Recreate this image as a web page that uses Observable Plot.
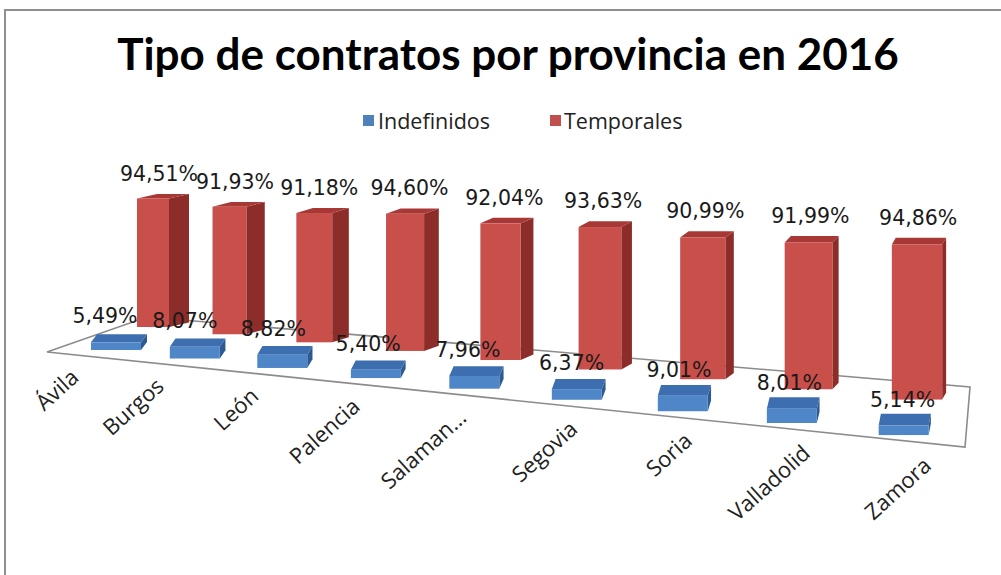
<!DOCTYPE html>
<html>
<head>
<meta charset="utf-8">
<script src="https://cdn.jsdelivr.net/npm/d3@7"></script>
<script src="https://cdn.jsdelivr.net/npm/@observablehq/plot@0.6"></script>
<style>
  html, body { margin: 0; padding: 0; background: #fff; width: 1001px; height: 575px; overflow: hidden; position: relative; }
  #frame { position: absolute; left: 4px; top: 9px; width: 1100px; height: 700px; border: 2px solid #8f8f8f; box-sizing: border-box; }
  #title { position: absolute; left: 0; top: 31px; width: 1016px; text-align: center; font-family: Lato, sans-serif; font-weight: bold; font-size: 44px; line-height: 44px; color: #000; white-space: nowrap; }
  .sw { position: absolute; width: 11px; height: 11px; top: 115px; }
  .lg { position: absolute; top: 108px; font-family: "Open Sans", sans-serif; font-size: 21.5px; line-height: 26px; color: #222; white-space: nowrap; }
  #chart { position: absolute; left: 0; top: 140px; }
</style>
</head>
<body>
<div id="frame"></div>
<div id="title">Tipo de contratos por provincia en 2016</div>
<div id="legend"></div>
<div id="chart"></div>
<script>
// ---- data ----
const provinces = ["Ávila", "Burgos", "León", "Palencia", "Salamanca", "Segovia", "Soria", "Valladolid", "Zamora"];
const tickLabels = ["Ávila", "Burgos", "León", "Palencia", "Salaman...", "Segovia", "Soria", "Valladolid", "Zamora"];
const indefinidos = [5.49, 8.07, 8.82, 5.40, 7.96, 6.37, 9.01, 8.01, 5.14];
const temporales = [94.51, 91.93, 91.18, 94.60, 92.04, 93.63, 90.99, 91.99, 94.86];
const seriesNames = ["Indefinidos", "Temporales"];
const seriesColors = ["#4f81bd", "#c0504d"];

const fmt = v => v.toFixed(2).replace(".", ",") + "%";
const rows = provinces.map((p, i) => ({province: p, pos: i + 1, tick: tickLabels[i], ind: indefinidos[i], tem: temporales[i]}));

// ---- legend ----
const legend = document.getElementById("legend");
const legendPos = [[363, 378], [550, 564]];
seriesNames.forEach((name, i) => {
  const sw = document.createElement("span");
  sw.className = "sw"; sw.style.left = legendPos[i][0] + "px"; sw.style.background = seriesColors[i];
  const tx = document.createElement("span");
  tx.className = "lg"; tx.style.left = legendPos[i][1] + "px"; tx.textContent = name;
  legend.append(sw, tx);
});

// ---- plot ----
const Y0 = 230, K0 = 1.5;
const W = 1001, H = 435;
const plot = Plot.plot({
  width: W, height: H,
  x: {type: "pow", exponent: 1.2, domain: [1, provinces.length], range: [153, 917], axis: null},
  y: {domain: [0, 100], range: [Y0, Y0 - 100 * K0], axis: null},
  marks: [
    // floor
    Plot.rect([{a: 1, b: provinces.length}], {x1: "a", x2: "b", y1: 0, y2: 0, fill: "white", stroke: "#8c8c8c"}),
    // Temporales (back row): side, top, front faces
    Plot.rect(rows, {x1: "pos", x2: "pos", y1: 0, y2: "tem", insetLeft: -15, insetRight: -15, fill: "#8c2d2a"}),
    Plot.rect(rows, {x1: "pos", x2: "pos", y1: 0, y2: "tem", insetLeft: -15, insetRight: -15, fill: "#a83835"}),
    Plot.rect(rows, {x1: "pos", x2: "pos", y1: 0, y2: "tem", insetLeft: -15, insetRight: -15, fill: "#c94f4b"}),
    // Indefinidos (front row): side, top, front faces
    Plot.rect(rows, {x1: "pos", x2: "pos", y1: 0, y2: "ind", insetLeft: -15, insetRight: -15, fill: "#2e5a92"}),
    Plot.rect(rows, {x1: "pos", x2: "pos", y1: 0, y2: "ind", insetLeft: -15, insetRight: -15, fill: "#3c6eb0"}),
    Plot.rect(rows, {x1: "pos", x2: "pos", y1: 0, y2: "ind", insetLeft: -15, insetRight: -15, fill: "#4f86c8"}),
    // value labels
    Plot.text(rows, {x: "pos", y: "tem", text: d => fmt(d.tem), fontFamily: "DejaVu Sans", fontSize: 20.5, fill: "#1a1a1a"}),
    Plot.text(rows, {x: "pos", y: "ind", text: d => fmt(d.ind), fontFamily: "DejaVu Sans", fontSize: 20.5, fill: "#1a1a1a"}),
    // category labels
    Plot.text(rows, {x: "pos", y: 0, text: "tick", rotate: -42, textAnchor: "end", fontFamily: "Open Sans", fontSize: 22, fill: "#222"})
  ]
});

// ---- 3D view (perspective of the original chart) ----
const red = {
  cx: X => X,
  base: X => 187 + 0.095 * (X - 153),
  scale: X => 1.36 + 0.00036 * (X - 153),
  width: X => 32 + 0.024 * (X - 153),
  depth: X => [20 - 0.021 * (X - 153), -4.5 - 0.003 * (X - 153)]
};
const blue = {
  cx: X => X - 37 + 0.031 * (X - 153),
  base: X => 210 + 0.108 * (blue.cx(X) - 116),
  scale: X => 1.4 + 0.0006 * (X - 153),
  width: X => 50,
  depth: X => [6 - 0.005 * (X - 153), -8 - 0.005 * (X - 153)]
};
const floorFront = x => 212 + 0.1035 * (x - 47);

function geom(r) {
  const x = +r.getAttribute("x"), y = +r.getAttribute("y"), w = +r.getAttribute("width"), h = +r.getAttribute("height");
  return {x, y, w, h, X: x + w / 2, vTop: (Y0 - y) / K0, vBot: (Y0 - y - h) / K0};
}
function box(row, g) {
  const cx = row.cx(g.X), base = row.base(g.X), s = row.scale(g.X), w = row.width(g.X);
  const [dx, dy] = row.depth(g.X);
  return {L: cx - w / 2, R: cx + w / 2, T: base - s * g.vTop, B: base - s * g.vBot, dx, dy};
}
function setM(el, a, b, c, d, e, f) { el.setAttribute("transform", `matrix(${a},${b},${c},${d},${e},${f})`); }
function face(el, row, kind) {
  const g = geom(el), bx = box(row, g);
  if (kind === "front") {
    const a = (bx.R - bx.L) / g.w, d = (bx.B - bx.T) / g.h;
    setM(el, a, 0, 0, d, bx.L - a * g.x, bx.T - d * g.y);
  } else if (kind === "side") {
    const a = bx.dx / g.w, b = bx.dy / g.w, d = (bx.B - bx.T) / g.h;
    setM(el, a, b, 0, d, bx.R - a * g.x, bx.T - b * g.x - d * g.y);
  } else {
    const a = (bx.R - bx.L) / g.w, c = bx.dx / g.h, d = bx.dy / g.h;
    setM(el, a, 0, c, d, bx.L - a * g.x - c * g.y, bx.T - d * g.y);
  }
}
function anchor(t) {
  const tr = t.getAttribute("transform");
  const m = tr && tr.match(/translate\(\s*([-\d.eE]+)[ ,]+([-\d.eE]+)\s*\)/);
  if (m) return [+m[1], +m[2]];
  return [+(t.getAttribute("x") || 0), +(t.getAttribute("y") || 0)];
}
function place(t, x, y, rot) {
  t.removeAttribute("x"); t.removeAttribute("y");
  t.setAttribute("transform", `translate(${x},${y})` + (rot ? ` rotate(${rot})` : ""));
}

const groups = Array.from(plot.querySelectorAll(":scope > g"));
// floor -> projected quadrilateral
{
  const r = groups[0].querySelector("rect");
  const x1 = +r.getAttribute("x"), x2 = x1 + +r.getAttribute("width");
  const FL = [x1 - 106, floorFront(x1 - 106)], BL = [x1 - 6, red.base(x1) - 10], BR = [x2 + 53, red.base(x2) - 12.6], FR = [x2 + 48, floorFront(x2 + 48)];
  const p = document.createElementNS("http://www.w3.org/2000/svg", "path");
  p.setAttribute("d", `M${FL}L${BL}L${BR}L${FR}Z`);
  p.setAttribute("fill", "white"); p.setAttribute("stroke", "#8c8c8c"); p.setAttribute("stroke-width", "1.6");
  r.replaceWith(p);
}
const faceKinds = ["side", "top", "front"];
[1, 2, 3].forEach((gi, k) => groups[gi].querySelectorAll("rect").forEach(el => face(el, red, faceKinds[k])));
[4, 5, 6].forEach((gi, k) => groups[gi].querySelectorAll("rect").forEach(el => face(el, blue, faceKinds[k])));
groups[7].querySelectorAll("text").forEach(t => {
  const [px, py] = anchor(t); const v = (Y0 - py) / K0;
  const [dx, dy] = red.depth(px);
  place(t, px + dx * 0.3, red.base(px) - red.scale(px) * v + dy - 13);
});
groups[8].querySelectorAll("text").forEach(t => {
  const [px, py] = anchor(t); const v = (Y0 - py) / K0;
  place(t, blue.cx(px) - 11 + 0.013 * (px - 153), blue.base(px) - blue.scale(px) * v - 19);
});
groups[9].querySelectorAll("text").forEach(t => {
  const [px] = anchor(t);
  const ex = blue.cx(px) - 36 + 0.085 * (px - 153);
  place(t, ex, floorFront(ex) + 24, -42);
});
groups.forEach(g => g.removeAttribute("transform"));

document.getElementById("chart").append(plot);
</script>
</body>
</html>
